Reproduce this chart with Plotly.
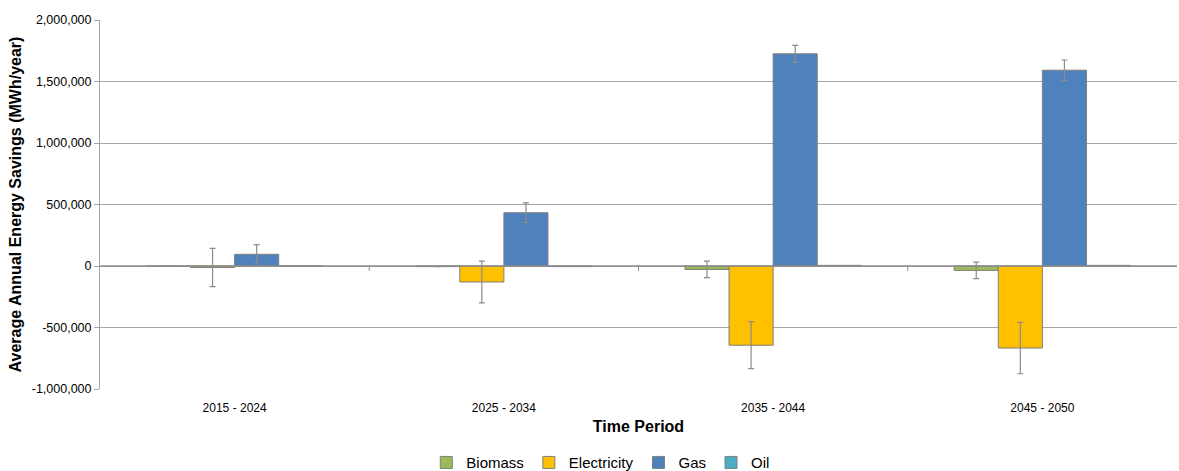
import plotly.graph_objects as go

# Time periods (categories)
periods = ["2015 - 2024", "2025 - 2034", "2035 - 2044", "2045 - 2050"]

# Average annual energy savings (MWh/year) by fuel
biomass = [-3000, -5000, -28000, -36000]
electricity = [-12000, -130000, -644000, -667000]
gas = [95000, 433000, 1725000, 1592000]
oil = [0, -5000, 5000, 5000]

# Error bar half-widths
biomass_err = [0, 0, 67000, 67000]
electricity_err = [155000, 170000, 191000, 209000]
gas_err = [78000, 81000, 69000, 83000]
oil_err = [0, 0, 0, 0]

# Y axis ticks
y_ticks = [-1000000, -500000, 0, 500000, 1000000, 1500000, 2000000]
y_tick_text = ["-1,000,000", "-500,000", "0", "500,000", "1,000,000", "1,500,000", "2,000,000"]

FONT = "Liberation Sans, Arial, sans-serif"
OUTLINE = "#7F7F7F"
ERR = "#8C8C8C"

series = [
    ("Biomass", biomass, biomass_err, "#9BBB59"),
    ("Electricity", electricity, electricity_err, "#FFC000"),
    ("Gas", gas, gas_err, "#4F81BD"),
    ("Oil", oil, oil_err, "#4BACC6"),
]

fig = go.Figure()
for name, vals, errs, color in series:
    show_err = any(e > 0 for e in errs)
    fig.add_trace(go.Bar(
        name=name, x=periods, y=vals,
        marker=dict(color=color, line=dict(color=OUTLINE, width=1)),
        error_y=dict(type="data", array=errs, visible=show_err,
                     color=ERR, thickness=1.2, width=3),
    ))

# Category axis drawn along zero, with tick marks between categories
fig.add_shape(type="line", xref="paper", yref="y", x0=0, x1=1, y0=0, y1=0,
              line=dict(color="#8C8C8C", width=1.5), layer="above")
for b in [0.25, 0.5, 0.75]:
    fig.add_shape(type="line", xref="paper", yref="y", x0=b, x1=b,
                  y0=0, y1=-40000, line=dict(color="#8C8C8C", width=1), layer="above")

fig.update_layout(
    width=1179, height=471,
    margin=dict(l=100, r=2, t=20, b=82, autoexpand=False),
    paper_bgcolor="white", plot_bgcolor="white",
    barmode="group", bargap=0.345, bargroupgap=0,
    font=dict(family=FONT, color="#000000", size=12),
    showlegend=True,
    legend=dict(orientation="h", x=0.465, xanchor="center", y=-0.155, yanchor="top",
                font=dict(size=15, family=FONT), traceorder="normal",
                itemwidth=30, tracegroupgap=0),
    xaxis=dict(
        showgrid=False, showline=False, ticks="", zeroline=False,
        tickfont=dict(size=12, family=FONT), automargin=False,
        ticklabelstandoff=10,
        title=dict(text="<b>Time Period</b>", font=dict(size=16, family=FONT), standoff=6),
    ),
    yaxis=dict(
        range=[-1000000, 2000000], tickvals=y_ticks, ticktext=y_tick_text,
        showgrid=True, gridcolor="#A6A6A6", gridwidth=1,
        showline=True, linecolor="#A6A6A6", linewidth=1,
        ticks="outside", ticklen=5, tickcolor="#A6A6A6",
        zeroline=False, automargin=False,
        tickfont=dict(size=12.5, family=FONT),
        title=dict(text="<b>Average Annual Energy Savings (MWh/year)</b>",
                   font=dict(size=16, family=FONT), standoff=6),
    ),
)

fig.write_html("out.html")
